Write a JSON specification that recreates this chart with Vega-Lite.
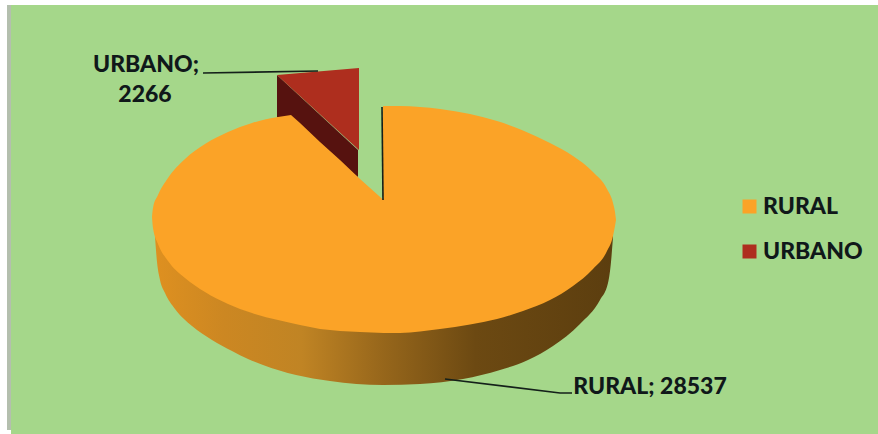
{"$schema":"https://vega.github.io/schema/vega-lite/v6.json","width":878,"height":434,"padding":0,"autosize":{"type":"none"},"background":"#ffffff","view":{"stroke":null},
"datasets":{
"panel":[{"part":"strip","x":7,"x2":11,"y":5,"y2":430},{"part":"field","x":11,"x2":878,"y":5,"y2":434}],
"wall":[{"x":155,"y":225,"y2":237},{"x":157,"y":225,"y2":262},{"x":160,"y":225,"y2":280},{"x":165,"y":225,"y2":293},{"x":175,"y":225,"y2":309},{"x":192,"y":225,"y2":326},{"x":212,"y":225,"y2":340},{"x":232,"y":225,"y2":351},{"x":248,"y":225,"y2":359},{"x":263,"y":225,"y2":365},{"x":296,"y":225,"y2":375},{"x":330,"y":225,"y2":381},{"x":383,"y":225,"y2":385},{"x":420,"y":225,"y2":384},{"x":463,"y":225,"y2":379},{"x":500,"y":225,"y2":370},{"x":528,"y":225,"y2":360},{"x":553,"y":225,"y2":346},{"x":580,"y":225,"y2":324},{"x":600,"y":225,"y2":300},{"x":608,"y":225,"y2":283},{"x":611,"y":225,"y2":262},{"x":613,"y":225,"y2":237}],
"side":[{"x":277,"y":75,"y2":117},{"x":358,"y":150,"y2":177}],
"edges":[
{"sector":"RURAL","segment":"left","x":152,"y":217,"y2":217},{"sector":"RURAL","segment":"left","x":153,"y":208,"y2":228},{"sector":"RURAL","segment":"left","x":158,"y":195,"y2":244},{"sector":"RURAL","segment":"left","x":168,"y":178,"y2":261},{"sector":"RURAL","segment":"left","x":185,"y":159,"y2":278},{"sector":"RURAL","segment":"left","x":205,"y":144,"y2":292},{"sector":"RURAL","segment":"left","x":228,"y":132,"y2":304},{"sector":"RURAL","segment":"left","x":252,"y":123,"y2":313},{"sector":"RURAL","segment":"left","x":278,"y":117,"y2":320},{"sector":"RURAL","segment":"left","x":291,"y":115,"y2":323},
{"sector":"RURAL","segment":"right","x":383,"y":106,"y2":333},{"sector":"RURAL","segment":"right","x":400,"y":106,"y2":333},{"sector":"RURAL","segment":"right","x":420,"y":107,"y2":331.5},{"sector":"RURAL","segment":"right","x":440,"y":109,"y2":329},{"sector":"RURAL","segment":"right","x":470,"y":114,"y2":324.5},{"sector":"RURAL","segment":"right","x":497,"y":121,"y2":319},{"sector":"RURAL","segment":"right","x":523,"y":130.5,"y2":311},{"sector":"RURAL","segment":"right","x":550,"y":143,"y2":300},{"sector":"RURAL","segment":"right","x":573,"y":156,"y2":286},{"sector":"RURAL","segment":"right","x":593,"y":172,"y2":269},{"sector":"RURAL","segment":"right","x":607,"y":189,"y2":251},{"sector":"RURAL","segment":"right","x":613,"y":203,"y2":236},{"sector":"RURAL","segment":"right","x":615,"y":212,"y2":226},{"sector":"RURAL","segment":"right","x":616,"y":220,"y2":220}],
"cuts":[
{"sector":"URBANO","x":277,"y":75,"y2":75},{"sector":"URBANO","x":359,"y":68,"y2":150},
{"sector":"RURAL","x":291,"y":115,"y2":323},{"sector":"RURAL","x":300,"y":123,"y2":325},{"sector":"RURAL","x":320,"y":142,"y2":329},{"sector":"RURAL","x":340,"y":160,"y2":331},{"sector":"RURAL","x":360,"y":179,"y2":332},{"sector":"RURAL","x":383.5,"y":200,"y2":333}],
"leaders":[{"id":"urbano","x":203,"y":73},{"id":"urbano","x":318,"y":71},{"id":"rural","x":445,"y":379},{"id":"rural","x":560,"y":393},{"id":"rural","x":572,"y":393},{"id":"gap","x":382,"y":107},{"id":"gap","x":383,"y":200}],
"labels":[{"label":"URBANO;","x":146,"y":65},{"label":"2266","x":145,"y":95},{"label":"RURAL; 28537","x":650,"y":387}]},
"layer":[
{"data":{"name":"panel"},"mark":{"type":"rect"},"encoding":{"x":{"field":"x","type":"quantitative","scale":{"domain":[0,878],"nice":false,"zero":false},"axis":null},"x2":{"field":"x2"},"y":{"field":"y","type":"quantitative","scale":{"domain":[434,0],"nice":false,"zero":false},"axis":null},"y2":{"field":"y2"},"fill":{"field":"part","type":"nominal","scale":{"domain":["strip","field"],"range":["#B4BFAE","#A5D78A"]},"legend":null}}},
{"data":{"name":"wall"},"mark":{"type":"area","interpolate":"monotone","color":{"gradient":"linear","x1":0,"x2":1,"y1":0,"y2":0,"stops":[{"offset":0,"color":"#DE9020"},{"offset":0.15,"color":"#CC8722"},{"offset":0.32,"color":"#C08424"},{"offset":0.5,"color":"#96661B"},{"offset":0.7,"color":"#6C4912"},{"offset":1,"color":"#5C3E0F"}]}},"encoding":{"x":{"field":"x","type":"quantitative"},"y":{"field":"y","type":"quantitative"},"y2":{"field":"y2"}}},
{"data":{"name":"side"},"mark":{"type":"area","color":"#56120F"},"encoding":{"x":{"field":"x","type":"quantitative"},"y":{"field":"y","type":"quantitative"},"y2":{"field":"y2"}}},
{"data":{"name":"cuts"},"mark":{"type":"area"},"encoding":{"x":{"field":"x","type":"quantitative"},"y":{"field":"y","type":"quantitative"},"y2":{"field":"y2"},"color":{"field":"sector","type":"nominal","scale":{"domain":["RURAL","URBANO"],"range":["#FBA327","#AE2E1E"]},"legend":{"title":null,"orient":"none","legendX":738,"legendY":195,"padding":0,"symbolType":"square","symbolSize":196,"symbolStrokeWidth":0,"rowPadding":21,"labelFont":"Lato","labelFontSize":23,"labelFontWeight":900,"labelColor":"#10181A","labelOffset":2}}}},
{"data":{"name":"edges"},"mark":{"type":"area","interpolate":"monotone"},"encoding":{"x":{"field":"x","type":"quantitative"},"y":{"field":"y","type":"quantitative"},"y2":{"field":"y2"},"detail":{"field":"segment"},"color":{"field":"sector","type":"nominal"}}},
{"data":{"name":"leaders"},"mark":{"type":"line","color":"#14201A","strokeWidth":1.6},"encoding":{"x":{"field":"x","type":"quantitative"},"y":{"field":"y","type":"quantitative"},"detail":{"field":"id"},"order":{"field":"x"}}},
{"data":{"name":"labels"},"mark":{"type":"text","font":"Lato","fontWeight":900,"fontSize":23,"color":"#10181A","align":"center","baseline":"middle"},"encoding":{"x":{"field":"x","type":"quantitative"},"y":{"field":"y","type":"quantitative"},"text":{"field":"label"}}}
]}
